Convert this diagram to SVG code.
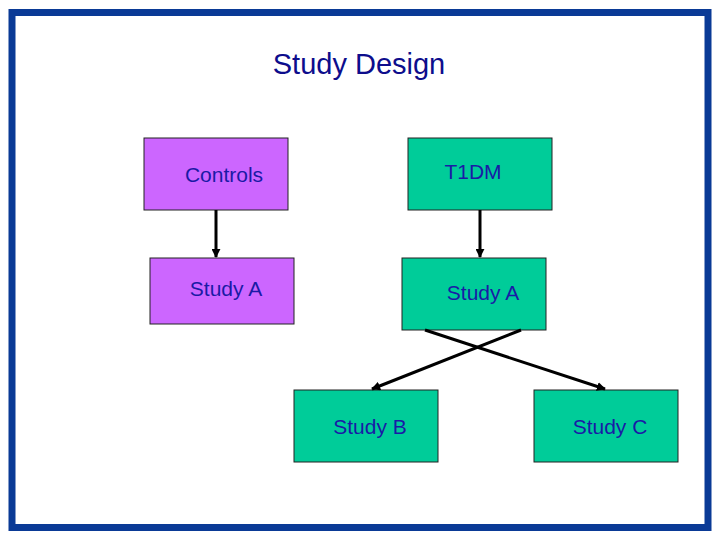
<svg xmlns="http://www.w3.org/2000/svg" width="720" height="540" viewBox="0 0 720 540">
<style>
.b{stroke:#222;stroke-width:1}
.p{fill:#cc66ff}
.g{fill:#00cc99}
.t{font-family:"Liberation Sans",Arial,sans-serif;font-size:21px;fill:#1a1aa6;text-anchor:middle}
.c{stroke:#000;stroke-width:3;fill:none}
</style>
<defs><marker id="a" viewBox="0 0 10 10" refX="9" refY="5" markerWidth="3" markerHeight="3" orient="auto"><path d="M0,0L10,5L0,10z" fill="#000"/></marker></defs>
<rect x="0" y="0" width="720" height="540" fill="#fff"/>
<rect x="12" y="12.5" width="696" height="515" fill="none" stroke="#0a3a96" stroke-width="7"/>
<text x="359" y="74" style="font-family:'Liberation Sans',Arial,sans-serif;font-size:29px;fill:#0d0d8c;text-anchor:middle">Study Design</text>
<g id="controls"><rect class="b p" x="144" y="138" width="144" height="72"/><text class="t" x="224" y="182">Controls</text></g>
<g id="studyA1"><rect class="b p" x="150" y="258" width="144" height="66"/><text class="t" x="226" y="296">Study A</text></g>
<g id="t1dm"><rect class="b g" x="408" y="138" width="144" height="72"/><text class="t" x="473" y="179">T1DM</text></g>
<g id="studyA2"><rect class="b g" x="402" y="258" width="144" height="72"/><text class="t" x="483" y="300">Study A</text></g>
<g id="studyB"><rect class="b g" x="294" y="390" width="144" height="72"/><text class="t" x="370" y="434">Study B</text></g>
<g id="studyC"><rect class="b g" x="534" y="390" width="144" height="72"/><text class="t" x="610" y="434">Study C</text></g>
<g id="connectors">
<line class="c" x1="216" y1="210" x2="216" y2="257" marker-end="url(#a)"/>
<line class="c" x1="480" y1="210" x2="480" y2="257" marker-end="url(#a)"/>
<line class="c" x1="425" y1="330" x2="605" y2="389" marker-end="url(#a)"/>
<line class="c" x1="521" y1="330" x2="372" y2="389" marker-end="url(#a)"/>
</g>
</svg>
